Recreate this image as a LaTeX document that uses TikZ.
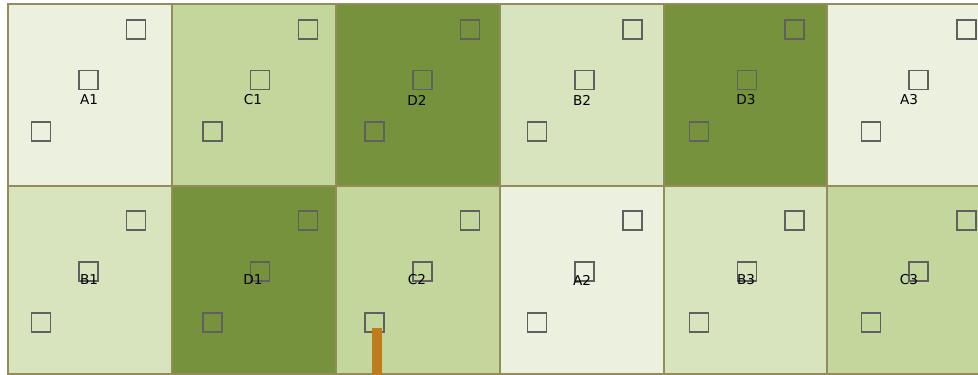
\documentclass[tikz,border=0pt]{standalone}
\usepackage{fontspec}
\setmainfont{DejaVu Sans}
\usepackage{tikz}
\usetikzlibrary{positioning}
\definecolor{shA}{HTML}{EBF1DE}
\definecolor{shB}{HTML}{D7E4BD}
\definecolor{shC}{HTML}{C3D69B}
\definecolor{shD}{HTML}{76923C}
\definecolor{gridline}{HTML}{958C5C}
\definecolor{boxgray}{HTML}{606060}
\definecolor{pole}{HTML}{BF7C1F}
\tikzset{
  cell/.style={
    rectangle,
    draw=gridline,
    line width=1.8pt,
    minimum width=164pt,
    inner sep=0pt
  },
  box/.style={
    rectangle,
    draw=boxgray,
    line width=1.6pt,
    minimum size=19pt,
    inner sep=0pt
  },
  lbl/.style={
    font=\fontsize{13.6}{16}\selectfont,
    inner sep=0pt
  },
  polebar/.style={
    rectangle,
    fill=pole,
    minimum width=10pt,
    minimum height=48pt,
    inner sep=0pt,
    anchor=north
  }
}

\begin{document}
\begin{tikzpicture}[x=1pt,y=-1pt]
\useasboundingbox (0,0) rectangle (978,375);
\clip (0,0) rectangle (978,375);

% top row
\foreach \name/\shade/\x/\lab/\sa/\sb/\sc in {A1/shA/8/89/136/88.5/41, C1/shC/172/253/308/260/212.5, D2/shD/336/417/470/422.5/374.5, B2/shB/500/582/632.5/584.5/537, D3/shD/664/746/794.7/747/699, A3/shA/827/909/966.3/918.5/870.8}
{
  \node[cell,fill=\shade,minimum height=182pt] (cell\name) at (\x+82,95) {};
  \node[box] (tr\name) at (\sa,29.5) {};
  \node[box] (mid\name) at (\sb,80) {};
  \node[box] (bl\name) at (\sc,131.5) {};
  \node[lbl] (lab\name) at (\lab,100) {\name};
}

% bottom row
\foreach \name/\shade/\x/\lab/\sa/\sb/\sc in {B1/shB/8/89/136/88.5/41, D1/shD/172/253/308/260/212.5, C2/shC/336/417/470/422.5/374.5, A2/shA/500/582/632.5/584.5/537, B3/shB/664/746/794.7/747/699, C3/shC/827/909/966.3/918.5/870.8}
{
  \node[cell,fill=\shade,minimum height=188pt] (cell\name) at (\x+82,280) {};
  \node[box] (tr\name) at (\sa,220.5) {};
  \node[box] (mid\name) at (\sb,271.5) {};
  \node[box] (bl\name) at (\sc,322.5) {};
  \node[lbl] (lab\name) at (\lab,280) {\name};
}

% orange post
\node[polebar] (post) at (377,328) {};
\end{tikzpicture}
\end{document}
